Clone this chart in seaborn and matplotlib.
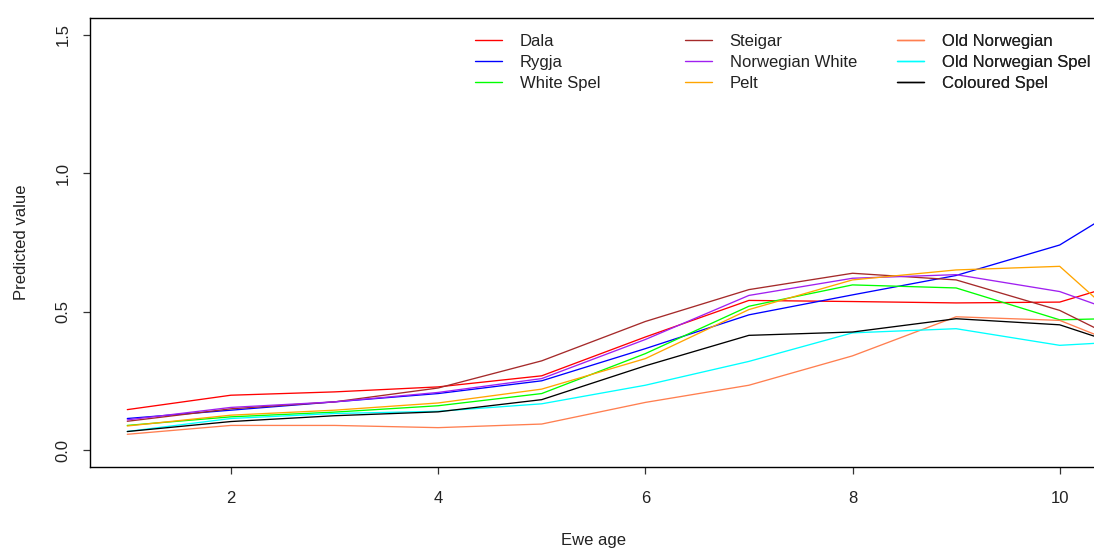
import matplotlib
matplotlib.use("Agg")
import matplotlib.pyplot as plt
import seaborn as sns
import pandas as pd
from matplotlib.lines import Line2D

ages = [1, 2, 3, 4, 5, 6, 7, 8, 9, 10, 11]
breeds = ["Dala", "Rygja", "White Spel", "Steigar", "Norwegian White", "Pelt",
          "Old Norwegian", "Old Norwegian Spel", "Coloured Spel"]
dala = [0.147, 0.199, 0.211, 0.229, 0.269, 0.409, 0.541, 0.537, 0.532, 0.535, 0.647]
rygja = [0.115, 0.145, 0.175, 0.205, 0.251, 0.367, 0.489, 0.561, 0.631, 0.741, 0.97]
white_spel = [0.090, 0.121, 0.138, 0.161, 0.205, 0.349, 0.520, 0.597, 0.586, 0.471, 0.48]
steigar = [0.105, 0.150, 0.175, 0.225, 0.323, 0.465, 0.580, 0.639, 0.615, 0.505, 0.32]
norwegian_white = [0.110, 0.155, 0.175, 0.209, 0.259, 0.400, 0.559, 0.621, 0.634, 0.573, 0.44]
pelt = [0.088, 0.127, 0.145, 0.171, 0.221, 0.331, 0.508, 0.615, 0.651, 0.664, 0.33]
old_norwegian = [0.058, 0.090, 0.090, 0.082, 0.095, 0.173, 0.235, 0.341, 0.482, 0.469, 0.32]
old_norwegian_spel = [0.068, 0.115, 0.133, 0.141, 0.168, 0.235, 0.321, 0.424, 0.439, 0.379, 0.40]
coloured_spel = [0.068, 0.104, 0.125, 0.139, 0.183, 0.305, 0.415, 0.427, 0.475, 0.453, 0.33]
series = [dala, rygja, white_spel, steigar, norwegian_white, pelt,
          old_norwegian, old_norwegian_spel, coloured_spel]
colors = ["#FF0000", "#0000FF", "#00FF00", "#A52A2A", "#A020F0", "#FFA500",
          "#FF7F50", "#00FFFF", "#000000"]
x_ticks = [2, 4, 6, 8, 10]
y_ticks = [0.0, 0.5, 1.0, 1.5]
y_tick_labels = ["0.0", "0.5", "1.0", "1.5"]

rows = []
for b, vals in zip(breeds, series):
    for a, v in zip(ages, vals):
        rows.append({"age": a, "value": v, "breed": b})
df = pd.DataFrame(rows)

sns.set_theme(style="white")
plt.rcParams["font.family"] = ["Liberation Sans", "DejaVu Sans"]

W, H = 1094, 550
fig = plt.figure(figsize=(W / 100, H / 100), dpi=100)
ax = fig.add_axes([90 / W, 1 - 467 / H, (1097 - 90) / W, (467 - 18) / H])

palette = dict(zip(breeds, colors))
sns.lineplot(data=df, x="age", y="value", hue="breed", hue_order=breeds,
             palette=palette, ax=ax, linewidth=0.95, legend=False, estimator=None)

ax.set_xlim(0.64, 10.36)
ax.set_ylim(-0.06, 1.56)
ax.set_xticks(x_ticks)
ax.set_xticklabels([str(t) for t in x_ticks])
ax.set_yticks(y_ticks)
ax.set_yticklabels(y_tick_labels, rotation=90, va="center")
for s in ax.spines.values():
    s.set_color("black")
    s.set_linewidth(1.0)
ax.tick_params(axis="both", direction="out", length=5, width=0.9, color="#333333",
               labelsize=12, labelcolor="#222222", pad=12, left=True, bottom=True)
ax.tick_params(axis="y", pad=9)
ax.grid(False)

ax.set_xlabel("Ewe age", fontsize=12, color="#222222")
ax.set_ylabel("Predicted value", fontsize=12, color="#222222")
ax.xaxis.set_label_coords(0.5, (467 - 533) / 449)
ax.yaxis.set_label_coords((29 - 90) / 1007, 0.5)

# legend in three columns without frame
col_x = [475, 685, 897]
for c in range(3):
    handles = [Line2D([], [], color=colors[3 * c + r], linewidth=1.0) for r in range(3)]
    labels = breeds[3 * c:3 * c + 3]
    leg = ax.legend(handles, labels, loc="upper left",
                    bbox_to_anchor=(col_x[c] / W, 1 - 34 / H),
                    bbox_transform=fig.transFigure, frameon=False, fontsize=12,
                    handlelength=1.62, handletextpad=1.05, borderpad=0,
                    borderaxespad=0, labelspacing=0.36, labelcolor="#222222")
    ax.add_artist(leg)

fig.savefig("out.png", dpi=100)
